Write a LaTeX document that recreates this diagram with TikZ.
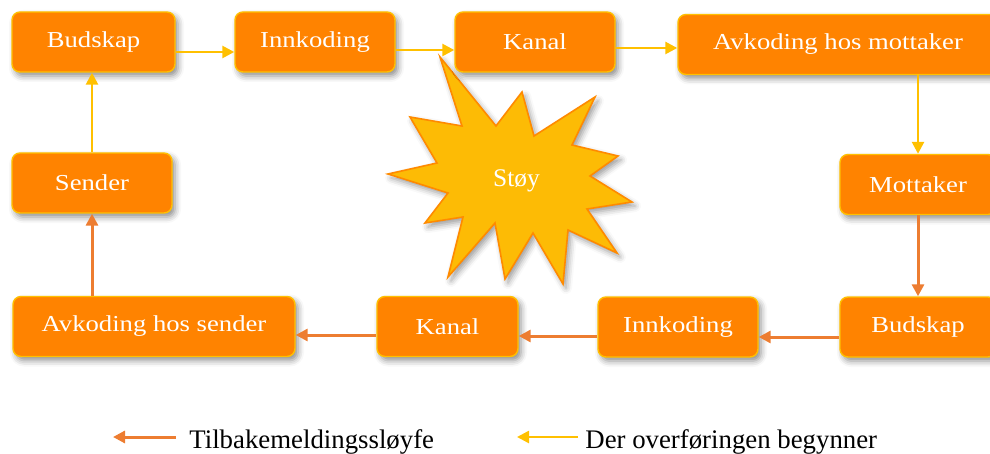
\documentclass[tikz,border=0pt]{standalone}
\usepackage{fontspec}
\setmainfont{Liberation Serif}
\usetikzlibrary{arrows.meta,shadows.blur}
\definecolor{boxfill}{HTML}{FF8300}
\definecolor{boxline}{HTML}{FFC000}
\definecolor{fwd}{HTML}{FFC000}
\definecolor{back}{HTML}{ED7D31}
\definecolor{starfill}{HTML}{FDBB05}
\definecolor{starline}{HTML}{FF8A00}
\newcommand{\widetxt}[1]{\scalebox{1.17}[1]{#1}}
\begin{document}
\begin{tikzpicture}[x=0.5pt,y=-0.5pt,
  box/.style={draw=boxline, line width=0.7pt, fill=boxfill, rounded corners=4pt,
    minimum height=30pt, text=white, font=\fontsize{11.4}{13}\selectfont, inner sep=0pt,
    blur shadow={shadow xshift=1.5pt, shadow yshift=-2pt, shadow blur radius=3pt, shadow opacity=45}},
  fwdarrow/.style={draw=fwd, line width=1.3pt, -{Triangle[length=6pt,width=6pt]}},
  backarrow/.style={draw=back, line width=1.5pt, -{Triangle[length=6pt,width=6pt]}},
  legtext/.style={anchor=base west, inner sep=0pt, font=\fontsize{13.4}{15}\selectfont},
]
\useasboundingbox (0,0) rectangle (990,454);
\clip (0,0) rectangle (990,454);

% star
\draw[draw=starline, fill=starfill, line width=0.8pt, line join=miter,
  blur shadow={shadow xshift=1.5pt, shadow yshift=-2pt, shadow blur radius=3pt, shadow opacity=40}]
  (440,57) -- (496,126) -- (522,92) -- (534,136) -- (595,97) -- (572,145) --
  (618,156) -- (590,176) -- (632,202) -- (587,209) -- (617,253) -- (568,230) --
  (563,284) -- (533,233) -- (505,279) -- (495,223) -- (448,277) -- (463,217) --
  (425,223) -- (448,193) -- (388,174) -- (437,163) -- (410,117) -- (462,126) -- cycle;
\node[text=white, font=\fontsize{12.7}{14}\selectfont, inner sep=0pt, anchor=base] (noise) at (516.5,187) {Støy};

% top row
\node[box, minimum width=81.5pt] (b1) at (93.5,42) {\widetxt{Budskap}};
\node[box, minimum width=80pt] (i1) at (315,42) {\widetxt{Innkoding}};
\node[box, minimum width=80pt] (k1) at (535,42) {\widetxt{Kanal}};
\node[box, minimum width=160pt] (a1) at (838,44.5) {\widetxt{Avkoding hos mottaker}};
% middle
\node[box, minimum width=80pt] (s) at (92,183) {\widetxt{Sender}};
\node[box, minimum width=78pt] (m) at (918,184.5) {\widetxt{Mottaker}};
% bottom row
\node[box, minimum width=141pt] (as) at (154,326.5) {\widetxt{Avkoding hos sender}};
\node[box, minimum width=70.5pt] (k2) at (447.5,326.5) {\widetxt{Kanal}};
\node[box, minimum width=80pt] (i2) at (678,327) {\widetxt{Innkoding}};
\node[box, minimum width=78pt] (b2) at (918,327) {\widetxt{Budskap}};

% forward loop
\draw[fwdarrow] ([yshift=-5pt]b1.east) -- ([yshift=-5pt]b1.east -| i1.west);
\draw[fwdarrow] ([yshift=-4pt]i1.east) -- ([yshift=-4pt]i1.east -| k1.west);
\draw[fwdarrow] ([yshift=-3pt]k1.east) -- ([yshift=-3pt]k1.east -| a1.west);
\draw[fwdarrow] (a1.south -| m.north) -- (m.north);
\draw[fwdarrow] (s.north) -- (s.north |- b1.south);

% feedback loop
\draw[backarrow] (m.south) -- (b2.north);
\draw[backarrow] ([yshift=-5pt]b2.west) -- ([yshift=-5pt]b2.west -| i2.east);
\draw[backarrow] ([yshift=-4.5pt]i2.west) -- ([yshift=-4.5pt]i2.west -| k2.east);
\draw[backarrow] ([yshift=-4.25pt]k2.west) -- ([yshift=-4.25pt]k2.west -| as.east);
\draw[backarrow] (as.north -| s.south) -- (s.south);

% legend
\coordinate (l1s) at (176,437);
\coordinate (l1e) at (113,437);
\draw[backarrow] (l1s) -- (l1e);
\node[legtext] (l1t) at (189,448) {Tilbakemeldingssløyfe};
\coordinate (l2s) at (578,437);
\coordinate (l2e) at (517,437);
\draw[fwdarrow] (l2s) -- (l2e);
\node[legtext] (l2t) at (585,448) {Der overføringen begynner};
\end{tikzpicture}
\end{document}
